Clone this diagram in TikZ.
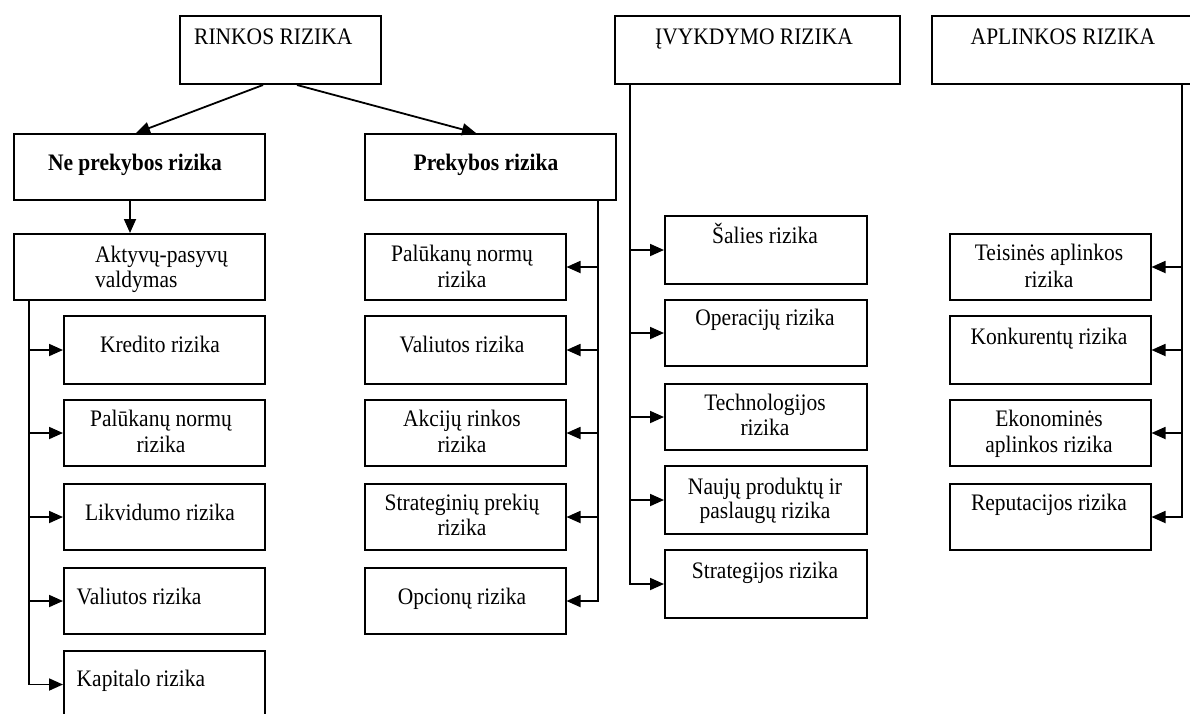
\documentclass[tikz,border=0pt]{standalone}
\usepackage{fontspec}
\usepackage{graphicx}
\setmainfont{Liberation Serif}
\usetikzlibrary{arrows.meta}
% slightly taller lettering
\newcommand\stretchtext[1]{\scalebox{1}[1.1]{#1}}
\begin{document}
\begin{tikzpicture}[x=1pt,y=-1pt,
  box/.style={draw, line width=2pt, inner sep=0pt, anchor=north west},
  txt/.style={anchor=base, inner sep=0pt, font=\fontsize{21.5}{25}\selectfont},
  arr/.style={line width=1.8pt, -{Triangle[length=14pt,width=12pt]}}]
\useasboundingbox (0,0) rectangle (1190,713);

% ---------- top level boxes ----------
\node[box, minimum width=201pt, minimum height=68pt] (rinkos) at (179,15) {};
\node[box, minimum width=285pt, minimum height=68pt] (ivyk) at (614,15) {};
\node[box, minimum width=265pt, minimum height=68pt] (apl) at (931,15) {};
\node[txt, anchor=base west] (rinkos-t) at (194,44) {\stretchtext{RINKOS RIZIKA}};
\node[txt] (ivyk-t) at (754,44) {\stretchtext{ĮVYKDYMO RIZIKA}};
\node[txt] (apl-t) at (1063,44) {\stretchtext{APLINKOS RIZIKA}};

% ---------- market risk branches ----------
\node[box, minimum width=251.5pt, minimum height=66pt] (nepre) at (12.6,133) {};
\node[box, minimum width=251.5pt, minimum height=66pt] (pre) at (363.5,133) {};
\node[txt, font=\fontsize{21.5}{25}\selectfont\bfseries] (nepre-t) at (135,170) {\stretchtext{Ne prekybos rizika}};
\node[txt, font=\fontsize{21.5}{25}\selectfont\bfseries] (pre-t) at (486,170) {\stretchtext{Prekybos rizika}};

\node[box, minimum width=251.5pt, minimum height=66pt] (akt) at (12.6,233) {};
\node[txt, anchor=base west] (akt-t1) at (95,262) {\stretchtext{Aktyvų-pasyvų}};
\node[txt, anchor=base west] (akt-t2) at (95,287) {\stretchtext{valdymas}};

% non-trading children
\node[box, minimum width=201pt, minimum height=68pt] (kred) at (63,315) {};
\node[box, minimum width=201pt, minimum height=66pt] (palL) at (63,399) {};
\node[box, minimum width=201pt, minimum height=66pt] (likv) at (63,483) {};
\node[box, minimum width=201pt, minimum height=66pt] (valL) at (63,567) {};
\node[box, minimum width=201pt, minimum height=67pt] (kap) at (63,650) {};
\node[txt] (kred-t) at (160,352.5) {\stretchtext{Kredito rizika}};
\node[txt] (palL-t1) at (161,426) {\stretchtext{Palūkanų normų}};
\node[txt] (palL-t2) at (161,452) {\stretchtext{rizika}};
\node[txt] (likv-t) at (160,520) {\stretchtext{Likvidumo rizika}};
\node[txt, anchor=base west] (valL-t) at (76.5,604) {\stretchtext{Valiutos rizika}};
\node[txt, anchor=base west] (kap-t) at (76.5,686.5) {\stretchtext{Kapitalo rizika}};

% trading children
\node[box, minimum width=201pt, minimum height=66pt] (palP) at (363.5,233) {};
\node[box, minimum width=201pt, minimum height=68pt] (valP) at (363.5,315) {};
\node[box, minimum width=201pt, minimum height=66pt] (akc) at (363.5,399) {};
\node[box, minimum width=201pt, minimum height=66pt] (strP) at (363.5,483) {};
\node[box, minimum width=201pt, minimum height=66pt] (opc) at (363.5,567) {};
\node[txt] (palP-t1) at (462,261) {\stretchtext{Palūkanų normų}};
\node[txt] (palP-t2) at (462,287) {\stretchtext{rizika}};
\node[txt] (valP-t) at (462,352.5) {\stretchtext{Valiutos rizika}};
\node[txt] (akc-t1) at (462,426) {\stretchtext{Akcijų rinkos}};
\node[txt] (akc-t2) at (462,452) {\stretchtext{rizika}};
\node[txt] (strP-t1) at (462,510) {\stretchtext{Strateginių prekių}};
\node[txt] (strP-t2) at (462,535) {\stretchtext{rizika}};
\node[txt] (opc-t) at (462,604) {\stretchtext{Opcionų rizika}};

% ---------- execution risk children ----------
\node[box, minimum width=201.5pt, minimum height=68pt] (sal) at (664,215) {};
\node[box, minimum width=201.5pt, minimum height=66pt] (oper) at (664,299) {};
\node[box, minimum width=201.5pt, minimum height=66pt] (tech) at (664,383) {};
\node[box, minimum width=201.5pt, minimum height=68pt] (nau) at (664,465) {};
\node[box, minimum width=201.5pt, minimum height=68pt] (strat) at (664,549) {};
\node[txt] (sal-t) at (765,243) {\stretchtext{Šalies rizika}};
\node[txt] (oper-t) at (765,325) {\stretchtext{Operacijų rizika}};
\node[txt] (tech-t1) at (765,410) {\stretchtext{Technologijos}};
\node[txt] (tech-t2) at (765,435) {\stretchtext{rizika}};
\node[txt] (nau-t1) at (765,494) {\stretchtext{Naujų produktų ir}};
\node[txt] (nau-t2) at (765,518) {\stretchtext{paslaugų rizika}};
\node[txt] (strat-t) at (765,578) {\stretchtext{Strategijos rizika}};

% ---------- environment risk children ----------
\node[box, minimum width=200.5pt, minimum height=66pt] (teis) at (949,233) {};
\node[box, minimum width=200.5pt, minimum height=68pt] (konk) at (949,315) {};
\node[box, minimum width=200.5pt, minimum height=66pt] (ekon) at (949,399) {};
\node[box, minimum width=200.5pt, minimum height=66pt] (rep) at (949,483) {};
\node[txt] (teis-t1) at (1049,260) {\stretchtext{Teisinės aplinkos}};
\node[txt] (teis-t2) at (1049,287) {\stretchtext{rizika}};
\node[txt] (konk-t) at (1049,344) {\stretchtext{Konkurentų rizika}};
\node[txt] (ekon-t1) at (1049,426) {\stretchtext{Ekonominės}};
\node[txt] (ekon-t2) at (1049,452) {\stretchtext{aplinkos rizika}};
\node[txt] (rep-t) at (1049,510) {\stretchtext{Reputacijos rizika}};

% ---------- connectors ----------
\draw[arr] ([xshift=84pt]rinkos.south west) -- ([xshift=123.4pt]nepre.north west);
\draw[arr] ([xshift=118pt]rinkos.south west) -- ([xshift=112.5pt]pre.north west);
\draw[arr] ([xshift=117.4pt]nepre.south west) -- ([xshift=117.4pt]akt.north west);

% non-trading trunk
\coordinate (lt) at ([xshift=16pt]akt.south west);
\draw[arr] (lt) |- (kap.west);
\foreach \n in {kred,palL,likv,valL} \draw[arr] (lt |- \n.west) -- (\n.west);

% trading trunk
\coordinate (ptr) at ([xshift=-19pt]pre.south east);
\draw[arr] (ptr) |- (opc.east);
\foreach \n in {palP,valP,akc,strP} \draw[arr] (ptr |- \n.east) -- (\n.east);

% execution trunk
\coordinate (itr) at ([xshift=16pt]ivyk.south west);
\draw[arr] (itr) |- (strat.west);
\foreach \n in {sal,oper,tech,nau} \draw[arr] (itr |- \n.west) -- (\n.west);

% environment trunk
\coordinate (atr) at ([xshift=251pt]apl.south west);
\draw[arr] (atr) |- (rep.east);
\foreach \n in {teis,konk,ekon} \draw[arr] (atr |- \n.east) -- (\n.east);
\end{tikzpicture}
\end{document}
